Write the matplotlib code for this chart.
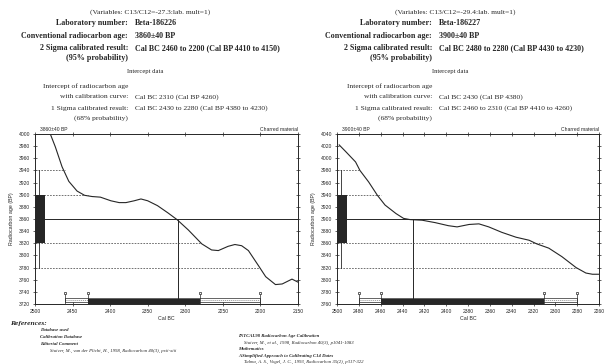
import matplotlib

matplotlib.use("Agg")

import matplotlib.pyplot as plt
from matplotlib.patches import Rectangle

INK = "#262626"
GREY = "#5a5a5a"
SERIF = "Liberation Serif"
SANS = "Liberation Sans"
W, H = 604, 364

# ---- sample 1 (left panel) ----
s1_lab = "Beta-186226"
s1_ratio = "-27.3"
s1_age, s1_err = 3860, 40
s1_cal2 = (2460, 2200)
s1_bp2 = (4410, 4150)
s1_icept, s1_icept_bp = 2310, 4260
s1_cal1 = (2430, 2280)
s1_bp1 = (4380, 4230)
s1_xticks = [2500, 2450, 2400, 2350, 2300, 2250, 2200, 2150]
s1_yticks = list(range(3720, 4001, 20))
s1_curve_bc = [2479, 2473, 2464, 2455, 2444, 2434, 2424, 2413, 2399, 2388, 2379, 2368,
               2359, 2350, 2337, 2323, 2311, 2296, 2278, 2265, 2256, 2243, 2234, 2225,
               2216, 2202, 2193, 2180, 2171, 2158, 2150]
s1_curve_bp = [3998, 3979, 3946, 3922, 3906, 3899, 3897, 3896, 3890, 3887, 3887, 3890,
               3893, 3890, 3882, 3870, 3859, 3842, 3819, 3809, 3808, 3815, 3818, 3816,
               3808, 3782, 3765, 3752, 3753, 3761, 3756]

# ---- sample 2 (right panel) ----
s2_lab = "Beta-186227"
s2_ratio = "-29.4"
s2_age, s2_err = 3900, 40
s2_cal2 = (2480, 2280)
s2_bp2 = (4430, 4230)
s2_icept, s2_icept_bp = 2430, 4380
s2_cal1 = (2460, 2310)
s2_bp1 = (4410, 4260)
s2_xticks = list(range(2500, 2259, -20))
s2_yticks = list(range(3760, 4041, 20))
s2_curve_bc = [2498, 2492, 2483, 2479, 2471, 2463, 2456, 2446, 2439, 2433, 2422, 2410,
               2398, 2390, 2379, 2370, 2361, 2349, 2336, 2324, 2317, 2306, 2294, 2281,
               2272, 2266, 2260]
s2_curve_bp = [4022, 4011, 3994, 3980, 3961, 3939, 3923, 3909, 3901, 3899, 3898, 3894,
               3889, 3887, 3891, 3892, 3887, 3878, 3870, 3865, 3859, 3852, 3838, 3820,
               3811, 3809, 3809]

references_left = ["Database used", "Calibration Database", "Editorial Comment",
                   "Stuiver, M., van der Plicht, H., 1998, Radiocarbon 40(3), pxii-xiii"]
references_right = ["INTCAL98 Radiocarbon Age Calibration",
                    "Stuiver, M., et al., 1998, Radiocarbon 40(3), p1041-1083",
                    "Mathematics",
                    "A Simplified Approach to Calibrating C14 Dates",
                    "Talma, A. S., Vogel, J. C., 1993, Radiocarbon 35(2), p317-322"]


def ftext(x, y, s, **kw):
    """Text placed in figure pixels, y measured from the top."""
    kw.setdefault("family", SERIF)
    kw.setdefault("color", INK)
    kw.setdefault("va", "center")
    fig.text(x / W, 1 - y / H, s, **kw)


def text_block(xc, x_colon, lab, ratio, age, err, cal2, bp2, icept, icept_bp, cal1, bp1):
    xv = x_colon + 7
    big, small = 5.8, 5.4
    ftext(xc, 12, f"(Variables: C13/C12={ratio}:lab. mult=1)", fontsize=small, ha="center")
    ftext(x_colon, 23, "Laboratory number:", fontsize=big, ha="right", weight="bold")
    ftext(xv, 23, lab, fontsize=big, weight="bold")
    ftext(x_colon, 36, "Conventional radiocarbon age:", fontsize=big, ha="right", weight="bold")
    ftext(xv, 36, f"{age}\u00b1{err} BP", fontsize=big, weight="bold")
    ftext(x_colon, 48, "2 Sigma calibrated result:", fontsize=big, ha="right", weight="bold")
    ftext(xv, 48, f"Cal BC {cal2[0]} to {cal2[1]} (Cal BP {bp2[0]} to {bp2[1]})",
          fontsize=big, weight="bold")
    ftext(x_colon, 58, "(95% probability)", fontsize=big, ha="right", weight="bold")
    ftext(xc - 5, 72, "Intercept data", fontsize=4.8, ha="center")
    ftext(x_colon, 86, "Intercept of radiocarbon age", fontsize=small, ha="right")
    ftext(x_colon, 97, "with calibration curve:", fontsize=small, ha="right")
    ftext(xv, 97, f"Cal BC {icept} (Cal BP {icept_bp})", fontsize=small)
    ftext(x_colon, 108, "1 Sigma calibrated result:", fontsize=small, ha="right")
    ftext(xv, 108, f"Cal BC {cal1[0]} to {cal1[1]} (Cal BP {bp1[0]} to {bp1[1]})", fontsize=small)
    ftext(x_colon, 118, "(68% probability)", fontsize=small, ha="right")


def draw_panel(ax, curve_bc, curve_bp, age, err, cal2, cal1, icept, xticks, yticks):
    ax.set_xlim(xticks[0], xticks[-1])
    ax.set_ylim(yticks[0], yticks[-1])
    ytr = ax.get_yaxis_transform()
    xtr = ax.get_xaxis_transform()

    ax.plot(curve_bc, curve_bp, color=INK, lw=0.8, zorder=4)
    ax.axhline(age, color=INK, lw=0.7)
    ax.vlines(icept, yticks[0], age, color=INK, lw=0.7)

    # dotted sigma levels out to where they meet the curve
    for level, x_end in [(age + 2 * err, cal2[0]), (age + err, cal1[0]),
                         (age - err, cal1[1]), (age - 2 * err, cal2[1])]:
        ax.plot([xticks[0], x_end], [level, level], color=GREY, lw=0.6, ls=(0, (2, 1.5)))

    # radiocarbon age distribution on the y axis
    ax.add_patch(Rectangle((0, age - err), 0.038, 2 * err, transform=ytr,
                           color=INK, lw=0, zorder=5))
    ax.plot([0.016, 0.016], [age - 2 * err, age + 2 * err], transform=ytr,
            color=INK, lw=0.6)

    # calibrated ranges along the x axis
    ax.add_patch(Rectangle((cal2[0], 0.012), cal2[1] - cal2[0], 0.022, transform=xtr,
                           fill=False, ec=INK, lw=0.5))
    ax.plot([cal2[0], cal2[1]], [0.023, 0.023], transform=xtr, color=GREY,
            lw=0.4, ls=(0, (2, 1.5)))
    ax.add_patch(Rectangle((cal1[0], 0.0), cal1[1] - cal1[0], 0.032, transform=xtr,
                           color=INK, lw=0, zorder=5))
    for x in (cal2[0], cal1[0], cal1[1], cal2[1]):
        ax.plot([x, x], [0.0, 0.06], transform=xtr, color=INK, lw=0.5)
        ax.plot(x, 0.062, "s", ms=1.6, mfc="white", mec=INK, mew=0.5, transform=xtr)

    ax.set_xticks(xticks)
    ax.set_yticks(yticks)
    ax.tick_params(direction="inout", length=3, width=0.5, labelsize=3.6,
                   colors=INK, top=True, right=True, pad=2)
    for lbl in ax.get_xticklabels() + ax.get_yticklabels():
        lbl.set_family(SANS)
    for sp in ax.spines.values():
        sp.set_linewidth(0.7)
        sp.set_color(INK)
    ax.set_xlabel("Cal BC", fontsize=3.8, family=SANS, labelpad=1.5, color=INK)
    ax.set_ylabel("Radiocarbon age (BP)", fontsize=3.8, family=SANS, labelpad=3, color=INK)
    ax.text(0.02, 1.012, f"{age}\u00b1{err} BP", transform=ax.transAxes,
            fontsize=3.6, family=SANS, color=INK, va="bottom")
    ax.text(1.0, 1.012, "Charred material", transform=ax.transAxes, ha="right",
            fontsize=3.6, family=SANS, color=INK, va="bottom")


fig = plt.figure(figsize=(W / 100, H / 100), dpi=100)
fig.patch.set_facecolor("white")

text_block(150, 128, s1_lab, s1_ratio, s1_age, s1_err, s1_cal2, s1_bp2,
           s1_icept, s1_icept_bp, s1_cal1, s1_bp1)
text_block(455, 432, s2_lab, s2_ratio, s2_age, s2_err, s2_cal2, s2_bp2,
           s2_icept, s2_icept_bp, s2_cal1, s2_bp1)

ax1 = fig.add_axes([35 / W, 1 - 304 / H, 263 / W, 170 / H])
draw_panel(ax1, s1_curve_bc, s1_curve_bp, s1_age, s1_err, s1_cal2, s1_cal1,
           s1_icept, s1_xticks, s1_yticks)
ax2 = fig.add_axes([337 / W, 1 - 304 / H, 262 / W, 170 / H])
draw_panel(ax2, s2_curve_bc, s2_curve_bp, s2_age, s2_err, s2_cal2, s2_cal1,
           s2_icept, s2_xticks, s2_yticks)

# references footer
ftext(10, 323, "References:", fontsize=5.4, weight="bold", style="italic")
for i, line in enumerate(references_left):
    x = 50 if i == 3 else 40
    ftext(x, 330 + 7 * i, line, fontsize=3.4, style="italic",
          weight="bold" if i < 3 else "normal")
for i, line in enumerate(references_right):
    x = 244 if i in (1, 4) else 238
    ftext(x, 336 + 6.5 * i, line, fontsize=3.4, style="italic",
          weight="bold" if i in (0, 2, 3) else "normal")

fig.savefig("out.png", dpi=100)
